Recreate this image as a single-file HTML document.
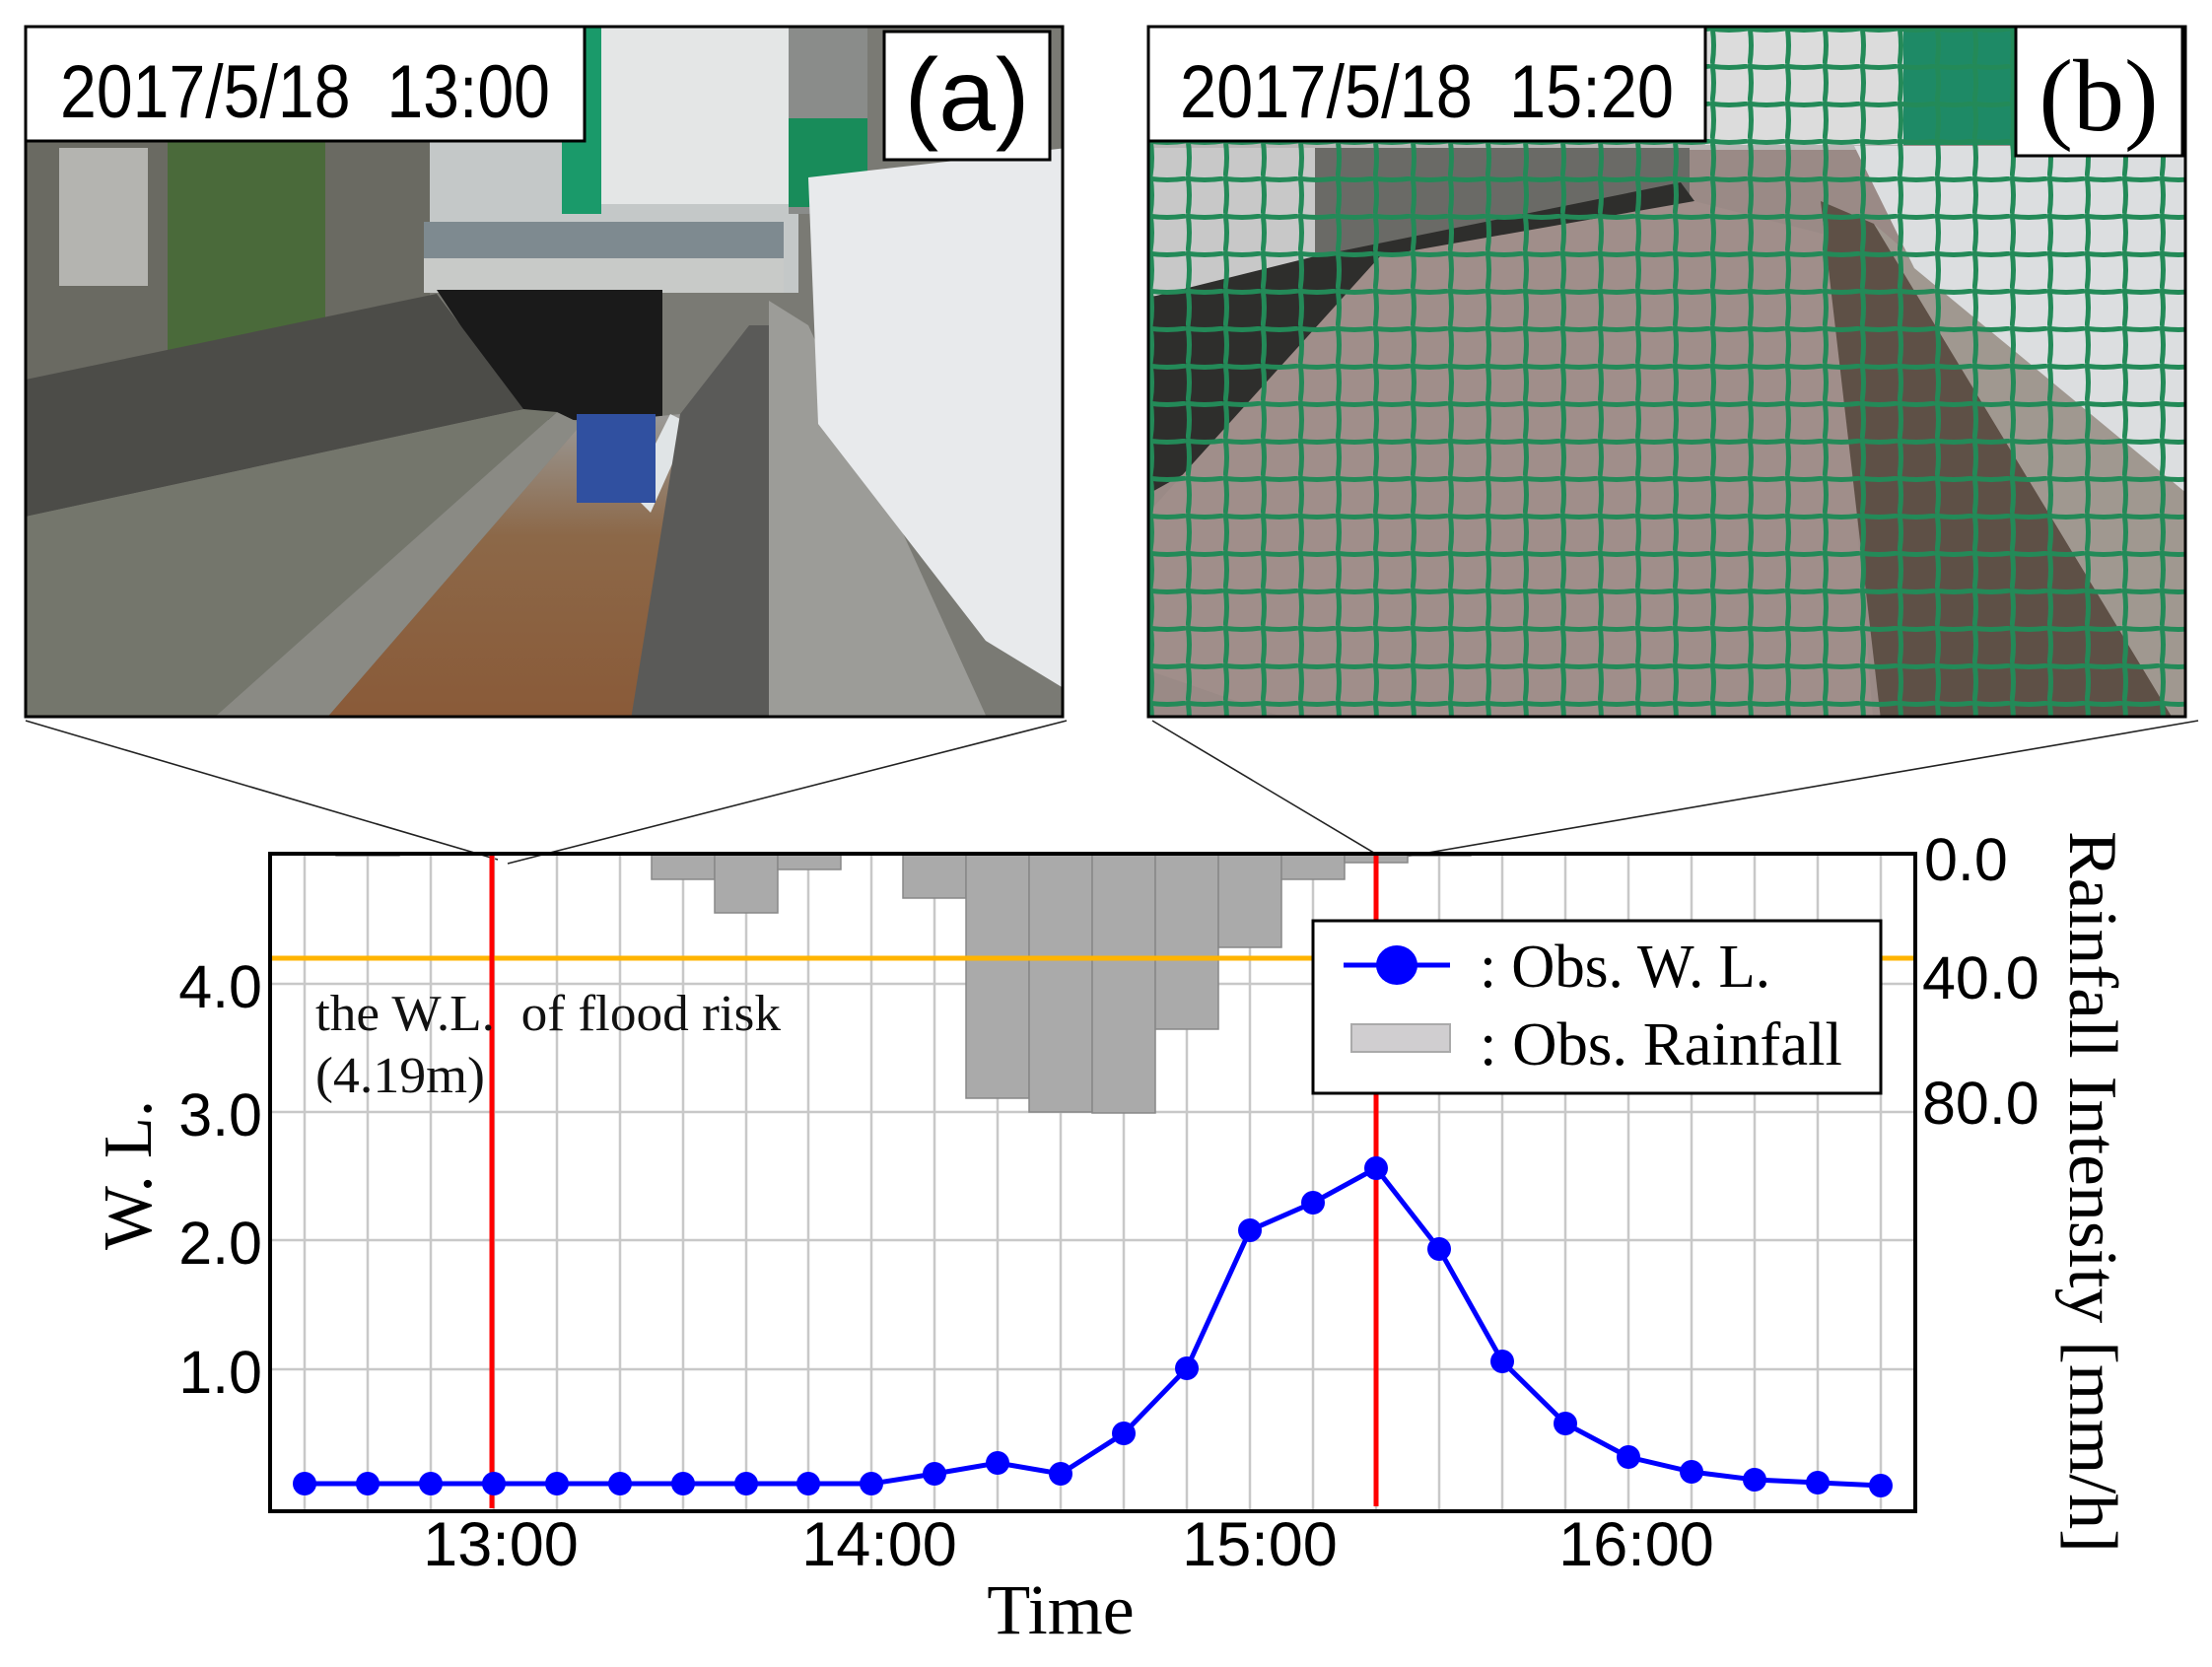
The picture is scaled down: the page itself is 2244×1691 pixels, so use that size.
<!DOCTYPE html>
<html><head><meta charset="utf-8"><style>
html,body{margin:0;padding:0;background:#fff}
svg{display:block}
text{white-space:pre}
</style></head><body>
<svg width="2244" height="1691" viewBox="0 0 2244 1691" xmlns="http://www.w3.org/2000/svg" xml:space="preserve">
<defs>
<pattern id="net" width="38" height="38" patternUnits="userSpaceOnUse" x="1165" y="27">
<path d="M0 2 Q19 5 38 2 M2 0 Q5 19 2 38" fill="none" stroke="#238a58" stroke-width="5"/>
</pattern>
<linearGradient id="wat" x1="0" y1="0" x2="0" y2="1"><stop offset="0" stop-color="#9a9a98"/><stop offset="0.4" stop-color="#8c6848"/><stop offset="1" stop-color="#8a5a38"/></linearGradient>
<clipPath id="ca"><rect x="26" y="27" width="1052" height="700"/></clipPath>
<clipPath id="cb"><rect x="1165" y="27" width="1052" height="700"/></clipPath>
</defs>
<rect width="2244" height="1691" fill="#fff"/>

<!-- Photo a -->
<g clip-path="url(#ca)">
<rect x="26" y="27" width="1052" height="700" fill="#7a7a74"/>
<rect x="430" y="27" width="380" height="270" fill="#c4c8c8"/>
<rect x="600" y="27" width="200" height="180" fill="#e4e6e6"/>
<rect x="570" y="27" width="40" height="190" fill="#1a9a6a"/>
<rect x="800" y="27" width="80" height="190" fill="#8a8c8a"/>
<rect x="800" y="120" width="80" height="90" fill="#188c5a"/>
<rect x="26" y="140" width="410" height="250" fill="#6a6a62"/>
<rect x="60" y="150" width="90" height="140" fill="#b4b4b0"/>
<rect x="170" y="140" width="160" height="230" fill="#4a6a3a"/>
<rect x="430" y="262" width="365" height="35" fill="#c8cac8"/>
<rect x="430" y="225" width="365" height="37" fill="#7e8a90"/>
<polygon points="443,294 672,294 672,426 531,426" fill="#1a1a1a"/>
<polygon points="26,385 443,298 531,415 26,524" fill="#4c4c48"/>
<polygon points="26,524 531,415 565,418 215,730 26,730" fill="#74766c"/>
<polygon points="215,730 565,418 590,430 330,730" fill="#8a8a84"/>
<polygon points="330,730 590,430 690,420 700,730" fill="url(#wat)"/>
<polygon points="640,500 680,420 700,430 660,520" fill="#e0e4e6"/>
<rect x="585" y="420" width="80" height="90" fill="#3050a0"/>
<polygon points="640,730 690,420 760,330 790,330 790,730" fill="#5a5a58"/>
<polygon points="780,305 820,330 1002,730 780,730" fill="#9c9c98"/>
<polygon points="820,180 1082,150 1082,700 1000,650 830,430" fill="#e8eaec"/>
</g>
<rect x="26" y="27" width="1052" height="700" fill="none" stroke="#000" stroke-width="3"/>
<rect x="26" y="27" width="567" height="116" fill="#fff" stroke="#000" stroke-width="3"/>
<text x="61" y="119" font-family="Liberation Sans, sans-serif" font-size="76" textLength="497" lengthAdjust="spacingAndGlyphs">2017/5/18  13:00</text>
<rect x="897" y="32" width="168" height="130" fill="#fff" stroke="#000" stroke-width="3"/>
<text x="981" y="132" text-anchor="middle" font-family="Liberation Sans, sans-serif" font-size="104">(a)</text>

<!-- Photo b -->
<g clip-path="url(#cb)">
<rect x="1165" y="27" width="1052" height="700" fill="#9a8a86"/>
<rect x="1165" y="27" width="766" height="125" fill="#b8b8b6"/>
<rect x="1730" y="27" width="201" height="120" fill="#dcdcdc"/>
<rect x="1931" y="27" width="114" height="120" fill="#1e8a66"/>
<rect x="1165" y="150" width="169" height="150" fill="#c8c8c8"/>
<rect x="1334" y="150" width="380" height="110" fill="#6a6a66"/>
<polygon points="1165,302 1334,260 1705,185 1719,204 1543,290 1165,501" fill="#2e2e2c"/>
<polygon points="1400,260 1719,204 1860,240 1900,727 1300,727 1165,680 1165,520" fill="#a08e8a"/>
<polygon points="1847,204 1901,227 2205,730 1908,730" fill="#5e5046"/>
<polygon points="1901,227 2219,501 2219,727 2205,730" fill="#a09890"/>
<polygon points="1881,148 2219,148 2219,501 1942,272" fill="#dcdee0"/>
<rect x="1165" y="27" width="1052" height="700" fill="url(#net)"/>
</g>
<rect x="1165" y="27" width="1052" height="700" fill="none" stroke="#000" stroke-width="3"/>
<rect x="1165" y="27" width="565" height="116" fill="#fff" stroke="#000" stroke-width="3"/>
<text x="1197" y="119" font-family="Liberation Sans, sans-serif" font-size="76" textLength="501" lengthAdjust="spacingAndGlyphs">2017/5/18  15:20</text>
<rect x="2045" y="27" width="169" height="131" fill="#fff" stroke="#000" stroke-width="3"/>
<text x="2129" y="132" text-anchor="middle" font-family="Liberation Serif, serif" font-size="104">(b)</text>

<!-- connector lines -->
<g stroke="#222" stroke-width="1.6">
<line x1="26" y1="731" x2="505" y2="872"/>
<line x1="1082" y1="731" x2="515" y2="876"/>
<line x1="1169" y1="731" x2="1402" y2="870"/>
<line x1="2230" y1="731" x2="1408" y2="872"/>
</g>

<!-- grid -->
<g stroke="#c8c8c8" stroke-width="2.5">
<line x1="309" y1="866" x2="309" y2="1533"/><line x1="373" y1="866" x2="373" y2="1533"/><line x1="437" y1="866" x2="437" y2="1533"/><line x1="501" y1="866" x2="501" y2="1533"/><line x1="565" y1="866" x2="565" y2="1533"/><line x1="629" y1="866" x2="629" y2="1533"/><line x1="693" y1="866" x2="693" y2="1533"/><line x1="757" y1="866" x2="757" y2="1533"/><line x1="820" y1="866" x2="820" y2="1533"/><line x1="884" y1="866" x2="884" y2="1533"/><line x1="948" y1="866" x2="948" y2="1533"/><line x1="1012" y1="866" x2="1012" y2="1533"/><line x1="1076" y1="866" x2="1076" y2="1533"/><line x1="1140" y1="866" x2="1140" y2="1533"/><line x1="1204" y1="866" x2="1204" y2="1533"/><line x1="1268" y1="866" x2="1268" y2="1533"/><line x1="1332" y1="866" x2="1332" y2="1533"/><line x1="1396" y1="866" x2="1396" y2="1533"/><line x1="1460" y1="866" x2="1460" y2="1533"/><line x1="1524" y1="866" x2="1524" y2="1533"/><line x1="1588" y1="866" x2="1588" y2="1533"/><line x1="1652" y1="866" x2="1652" y2="1533"/><line x1="1716" y1="866" x2="1716" y2="1533"/><line x1="1780" y1="866" x2="1780" y2="1533"/><line x1="1844" y1="866" x2="1844" y2="1533"/><line x1="1908" y1="866" x2="1908" y2="1533"/>
<line x1="274" y1="998" x2="1943" y2="998"/><line x1="274" y1="1128" x2="1943" y2="1128"/><line x1="274" y1="1258" x2="1943" y2="1258"/><line x1="274" y1="1389" x2="1943" y2="1389"/>
</g>

<!-- bars -->
<g fill="#aaaaaa" stroke="#888" stroke-width="1.5">
<rect x="341" y="866" width="64" height="2"/>
<rect x="661" y="866" width="64" height="26"/>
<rect x="725" y="866" width="64" height="60"/>
<rect x="789" y="866" width="64" height="16"/>
<rect x="916" y="866" width="64" height="45"/>
<rect x="980" y="866" width="64" height="248"/>
<rect x="1044" y="866" width="64" height="262"/>
<rect x="1108" y="866" width="64" height="263"/>
<rect x="1172" y="866" width="64" height="178"/>
<rect x="1236" y="866" width="64" height="95"/>
<rect x="1300" y="866" width="64" height="26"/>
<rect x="1364" y="866" width="64" height="9"/>
<rect x="1428" y="866" width="64" height="2"/>
</g>

<line x1="274" y1="972" x2="1943" y2="972" stroke="#ffb400" stroke-width="5"/>
<line x1="499" y1="866" x2="499" y2="1530" stroke="#ff0000" stroke-width="5"/>
<line x1="1396" y1="866" x2="1396" y2="1528" stroke="#ff0000" stroke-width="5"/>

<text x="320" y="1045" font-family="Liberation Serif, serif" font-size="52" fill="#111" textLength="472" lengthAdjust="spacingAndGlyphs">the W.L.  of flood risk</text>
<text x="320" y="1108" font-family="Liberation Serif, serif" font-size="52" fill="#111" textLength="172" lengthAdjust="spacingAndGlyphs">(4.19m)</text>

<!-- W.L. series -->
<polyline fill="none" stroke="#0000ff" stroke-width="5" points="309,1505 373,1505 437,1505 501,1505 565,1505 629,1505 693,1505 757,1505 820,1505 884,1505 948,1495 1012,1484 1076,1495 1140,1454 1204,1388 1268,1248 1332,1220 1396,1185 1460,1267 1524,1381 1588,1444 1652,1478 1716,1493 1780,1501 1844,1504 1908,1507"/>
<g fill="#0000ff">
<circle cx="309" cy="1505" r="12"/><circle cx="373" cy="1505" r="12"/><circle cx="437" cy="1505" r="12"/><circle cx="501" cy="1505" r="12"/><circle cx="565" cy="1505" r="12"/><circle cx="629" cy="1505" r="12"/><circle cx="693" cy="1505" r="12"/><circle cx="757" cy="1505" r="12"/><circle cx="820" cy="1505" r="12"/><circle cx="884" cy="1505" r="12"/><circle cx="948" cy="1495" r="12"/><circle cx="1012" cy="1484" r="12"/><circle cx="1076" cy="1495" r="12"/><circle cx="1140" cy="1454" r="12"/><circle cx="1204" cy="1388" r="12"/><circle cx="1268" cy="1248" r="12"/><circle cx="1332" cy="1220" r="12"/><circle cx="1396" cy="1185" r="12"/><circle cx="1460" cy="1267" r="12"/><circle cx="1524" cy="1381" r="12"/><circle cx="1588" cy="1444" r="12"/><circle cx="1652" cy="1478" r="12"/><circle cx="1716" cy="1493" r="12"/><circle cx="1780" cy="1501" r="12"/><circle cx="1844" cy="1504" r="12"/><circle cx="1908" cy="1507" r="12"/>
</g>

<rect x="274" y="866" width="1669" height="667" fill="none" stroke="#000" stroke-width="4"/>

<!-- legend -->
<rect x="1332" y="934" width="576" height="175" fill="#fff" stroke="#000" stroke-width="3"/>
<line x1="1363" y1="979" x2="1471" y2="979" stroke="#0000ff" stroke-width="5"/>
<ellipse cx="1417" cy="979" rx="21" ry="20" fill="#0000ff"/>
<rect x="1371" y="1039" width="100" height="28" fill="#d0ced0" stroke="#aaa" stroke-width="2"/>
<text x="1501" y="1001" font-family="Liberation Serif, serif" font-size="62" textLength="295" lengthAdjust="spacingAndGlyphs">: Obs. W. L.</text>
<text x="1501" y="1080" font-family="Liberation Serif, serif" font-size="62" textLength="368" lengthAdjust="spacingAndGlyphs">: Obs. Rainfall</text>

<!-- left ticks -->
<g font-family="Liberation Sans, sans-serif" font-size="61" text-anchor="end" fill="#000">
<text x="266" y="1022">4.0</text><text x="266" y="1152">3.0</text><text x="266" y="1282">2.0</text><text x="266" y="1413">1.0</text>
</g>
<g font-family="Liberation Sans, sans-serif" font-size="61" fill="#000">
<text x="1952" y="893">0.0</text><text x="1950" y="1013">40.0</text><text x="1950" y="1140">80.0</text>
</g>
<g font-family="Liberation Sans, sans-serif" font-size="63" text-anchor="middle" fill="#000">
<text x="508" y="1588">13:00</text><text x="892" y="1588">14:00</text><text x="1278" y="1588">15:00</text><text x="1660" y="1588">16:00</text>
</g>
<text x="1076" y="1657" text-anchor="middle" font-family="Liberation Serif, serif" font-size="72">Time</text>
<text transform="translate(153,1268) rotate(-90)" font-family="Liberation Serif, serif" font-size="70" textLength="152" lengthAdjust="spacingAndGlyphs">W. L.</text>
<text transform="translate(2100,843) rotate(90)" font-family="Liberation Serif, serif" font-size="70" textLength="732" lengthAdjust="spacingAndGlyphs">Rainfall Intensity [mm/h]</text>
</svg>
</body></html>
